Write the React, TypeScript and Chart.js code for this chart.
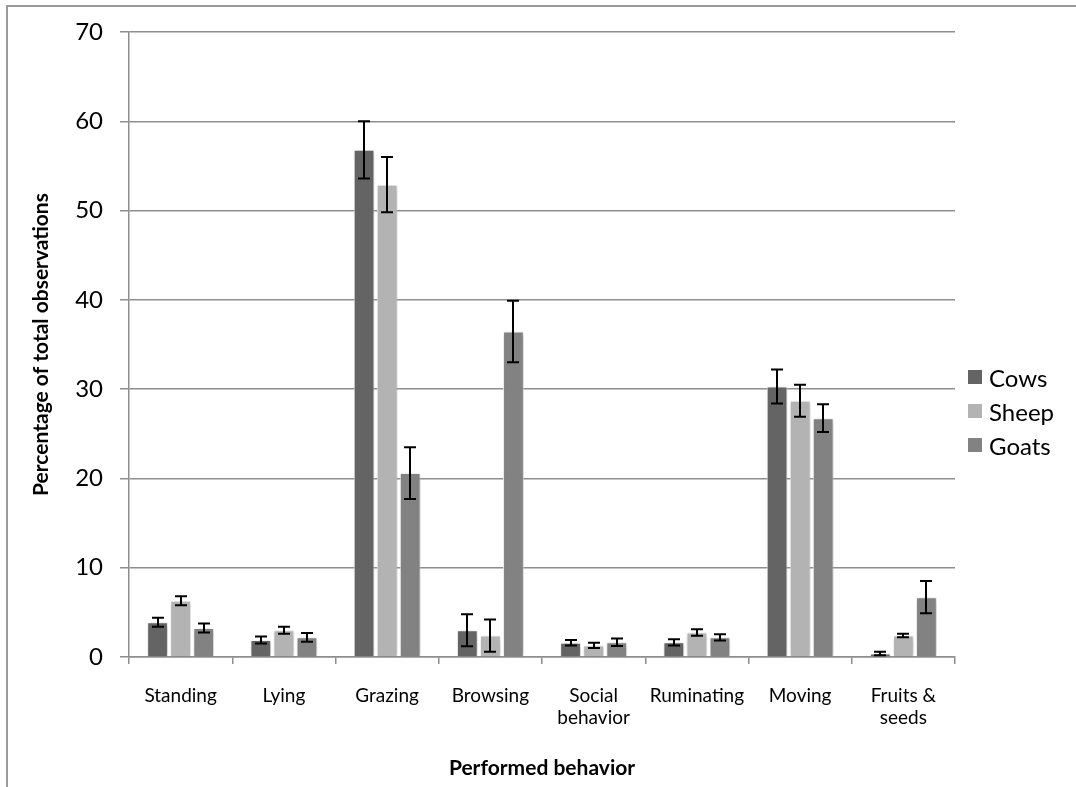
import React, { useEffect, useRef } from 'react';
import { Chart, registerables } from 'chart.js';

Chart.register(...registerables);

const categories: (string | string[])[] = [
  'Standing',
  'Lying',
  'Grazing',
  'Browsing',
  ['Social', 'behavior'],
  'Ruminating',
  'Moving',
  ['Fruits &', 'seeds'],
];
const seriesNames = ['Cows', 'Sheep', 'Goats'];
const seriesColors = ['#646464', '#b3b3b3', '#828282'];

const cowsValues = [3.9, 1.9, 56.8, 3.0, 1.6, 1.65, 30.3, 0.4];
const cowsErrors = [0.5, 0.4, 3.2, 1.8, 0.3, 0.35, 1.9, 0.2];
const sheepValues = [6.3, 3.0, 52.9, 2.4, 1.3, 2.75, 28.7, 2.4];
const sheepErrors = [0.5, 0.4, 3.1, 1.8, 0.3, 0.37, 1.8, 0.2];
const goatsValues = [3.25, 2.2, 20.6, 36.45, 1.65, 2.2, 26.75, 6.7];
const goatsErrors = [0.5, 0.5, 2.9, 3.45, 0.43, 0.36, 1.55, 1.8];

const yMin = 0;
const yMax = 70;
const yStep = 10;

const xTitle = 'Performed behavior';
const yTitle = 'Percentage of total observations';

const FONT = 'Lato, "Open Sans", sans-serif';
const GRID = '#8e8e8e';

const values = [cowsValues, sheepValues, goatsValues];
const errors = [cowsErrors, sheepErrors, goatsErrors];

const shadowPlugin = {
  id: 'barShadow',
  beforeDatasetsDraw(chart: any) {
    const ctx = chart.ctx;
    ctx.save();
    ctx.shadowColor = 'rgba(0,0,0,0.28)';
    ctx.shadowBlur = 5;
    ctx.shadowOffsetX = 1;
    ctx.shadowOffsetY = 1;
  },
  afterDatasetsDraw(chart: any) {
    chart.ctx.restore();
  },
};

const errorBarPlugin = {
  id: 'errorBars',
  afterDatasetsDraw(chart: any) {
    const ctx = chart.ctx;
    const y = chart.scales.y;
    ctx.save();
    ctx.strokeStyle = '#000';
    ctx.lineWidth = 2;
    chart.data.datasets.forEach((ds: any, i: number) => {
      const meta = chart.getDatasetMeta(i);
      meta.data.forEach((el: any, j: number) => {
        const v = ds.data[j];
        const e = ds.errors[j];
        const top = y.getPixelForValue(v + e);
        const bot = y.getPixelForValue(v - e);
        const x = Math.round(el.x);
        const cap = 6;
        ctx.beginPath();
        ctx.moveTo(x, top);
        ctx.lineTo(x, bot);
        ctx.moveTo(x - cap, top);
        ctx.lineTo(x + cap, top);
        ctx.moveTo(x - cap, bot);
        ctx.lineTo(x + cap, bot);
        ctx.stroke();
      });
    });
    ctx.restore();
  },
};

export default function App() {
  const canvasRef = useRef<HTMLCanvasElement | null>(null);

  useEffect(() => {
    if (!canvasRef.current) return;
    const chart = new Chart(canvasRef.current, {
      type: 'bar',
      data: {
        labels: categories as any,
        datasets: seriesNames.map((name, i) => ({
          label: name,
          data: values[i],
          errors: errors[i],
          backgroundColor: seriesColors[i],
          borderColor: 'rgba(255,255,255,0.9)',
          borderWidth: 1,
          categoryPercentage: 0.67,
          barPercentage: 0.9,
        })) as any,
      },
      options: {
        animation: false,
        responsive: false,
        devicePixelRatio: 1,
        layout: { padding: { left: 0, top: 32, right: 121, bottom: 0 } },
        plugins: {
          legend: { display: false },
          tooltip: { enabled: false },
        },
        scales: {
          x: {
            offset: true,
            grid: {
              display: true,
              drawOnChartArea: false,
              drawTicks: true,
              tickLength: 7,
              color: GRID,
              lineWidth: 1.5,
              offset: true,
            },
            border: { display: true, color: GRID, width: 1.5 },
            ticks: {
              color: '#000',
              font: { family: FONT, size: 19 },
              padding: 20,
              maxRotation: 0,
              autoSkip: false,
            },
            title: {
              display: true,
              text: xTitle,
              color: '#000',
              font: { family: FONT, size: 21, weight: 'bold' },
              padding: { top: 0, bottom: 6 },
            },
            afterFit: (s: any) => {
              s.height = 130;
            },
          } as any,
          y: {
            min: yMin,
            max: yMax,
            ticks: {
              stepSize: yStep,
              color: '#000',
              font: { family: FONT, size: 24 },
              padding: 17,
            },
            grid: {
              color: GRID,
              lineWidth: 1.5,
              drawTicks: true,
              tickLength: 9,
            },
            border: { display: true, color: GRID, width: 1.5 },
            title: {
              display: true,
              text: yTitle,
              color: '#000',
              font: { family: FONT, size: 21, weight: 'bold' },
              padding: { top: 29, bottom: 0 },
            },
            afterFit: (s: any) => {
              s.width = 129;
            },
          } as any,
        },
      },
      plugins: [shadowPlugin, errorBarPlugin],
    });
    return () => chart.destroy();
  }, []);

  const legendCenters = [377, 411, 445];

  return (
    <div
      style={{
        position: 'absolute',
        left: 0,
        top: 0,
        width: 1076,
        height: 787,
        overflow: 'hidden',
        background: '#fff',
      }}
    >
      <div
        style={{
          position: 'absolute',
          left: 6,
          top: 5,
          width: 1200,
          height: 900,
          borderLeft: '2px solid #9a9a9a',
          borderTop: '2px solid #9a9a9a',
        }}
      />
      <canvas
        ref={canvasRef}
        width={1076}
        height={787}
        style={{ position: 'absolute', left: 0, top: 0, width: 1076, height: 787 }}
      />
      {seriesNames.map((name, i) => (
        <div
          key={name}
          style={{
            position: 'absolute',
            left: 968,
            top: legendCenters[i] - 15,
            height: 30,
            display: 'flex',
            alignItems: 'center',
            fontFamily: FONT,
            fontSize: 24,
            color: '#000',
            whiteSpace: 'nowrap',
          }}
        >
          <span
            style={{
              display: 'inline-block',
              width: 14,
              height: 14,
              background: seriesColors[i],
              marginRight: 7,
            }}
          />
          {name}
        </div>
      ))}
    </div>
  );
}
